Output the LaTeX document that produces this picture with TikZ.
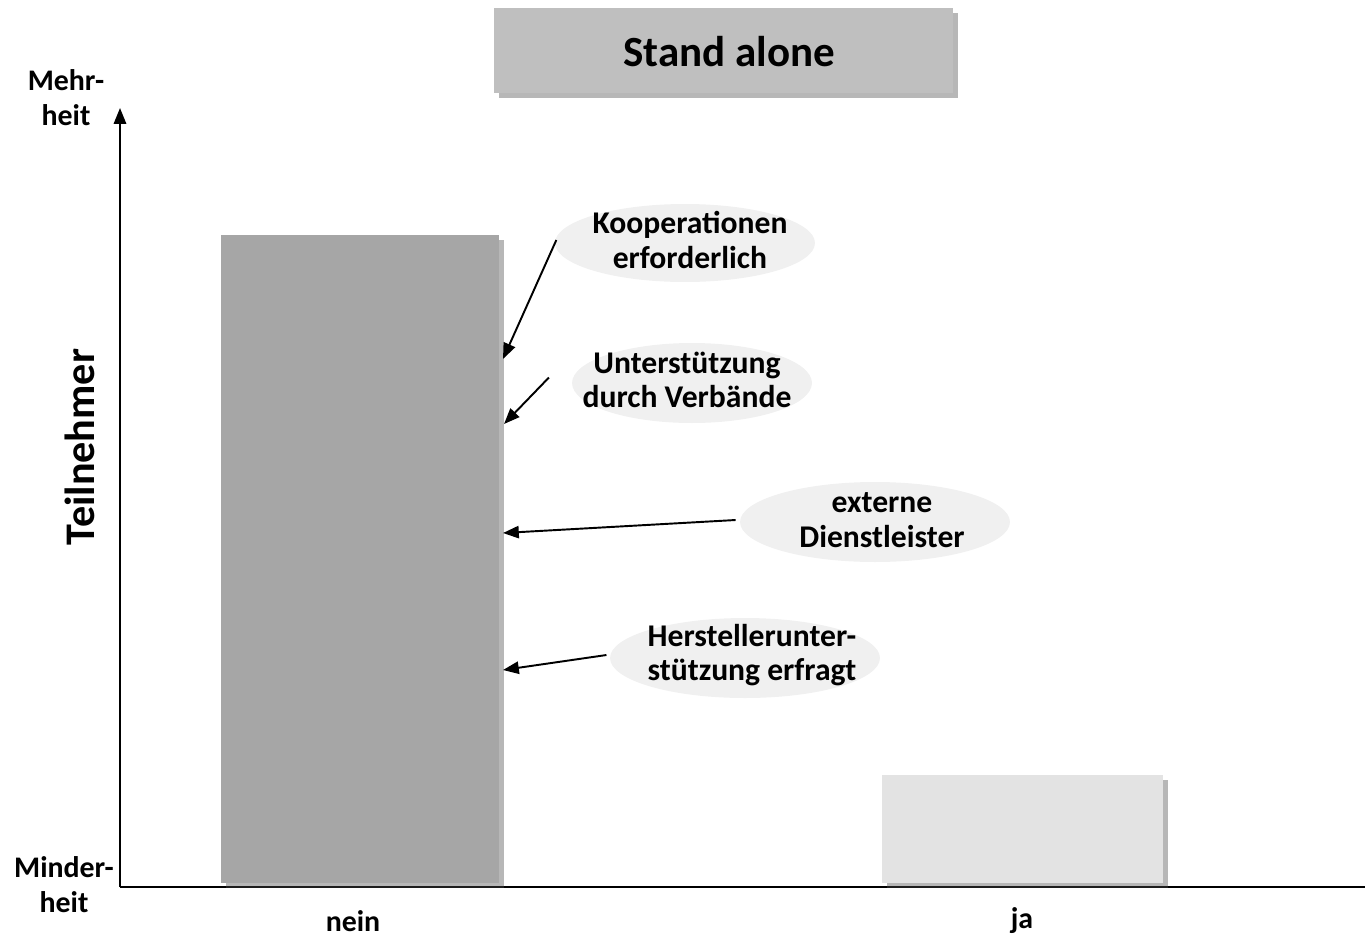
\documentclass[tikz,border=0pt]{standalone}
\usepackage{fontspec}
\setmainfont{Carlito}
\usetikzlibrary{shadows,arrows.meta}

\tikzset{
  shad/.style={drop shadow={shadow xshift=3pt,shadow yshift=-3pt,opacity=.4,fill=black!70}},
  glow/.style={fill=black!6},
  lbl/.style={font=\fontsize{18}{19.5}\selectfont\bfseries,align=center},
  axlbl/.style={font=\fontsize{17}{20}\selectfont\bfseries,align=center},
  pointer/.style={-{Triangle[length=9pt,width=7pt]},line width=1.1pt}
}

\begin{document}
\begin{tikzpicture}[x=0.02cm,y=-0.02cm]
  \useasboundingbox (0,0) rectangle (1365,937);
  % title
  \node[fill=black!25,shad,minimum width=9.18cm,minimum height=1.7cm] (titlebox) at (723.5,50.5) {};
  \node[font=\fontsize{24.5}{29}\selectfont\bfseries] (title) at (729,52) {Stand alone};
  % axes
  \coordinate (orig) at (120,887);
  \coordinate (ytop) at (120,108);
  \coordinate (xend) at (1365,887);
  \draw[line width=1.2pt,-{Triangle[length=9pt,width=7pt]}] (orig) -- (ytop);
  \draw[line width=1.2pt] (orig) -- (xend);
  \node[axlbl] (mehr) at (66,98) {Mehr-\\heit};
  \node[axlbl] (minder) at (64,885) {Minder-\\heit};
  \node[rotate=90,font=\fontsize{24}{28}\selectfont\bfseries] (teil) at (80,447) {Teilnehmer};
  \node[axlbl] (nein) at (353,921) {nein};
  \node[axlbl] (ja) at (1022,921) {ja};
  % bars
  \fill[black!35,shad] (221,235) rectangle (499,883);
  \fill[black!11,shad] (882,775) rectangle (1163,883);
  % notes
  \fill[glow] (685,243) ellipse (2.6cm and 0.78cm);
  \fill[glow] (692,383) ellipse (2.4cm and 0.8cm);
  \fill[glow] (875,522) ellipse (2.7cm and 0.8cm);
  \fill[glow] (745,658) ellipse (2.7cm and 0.8cm);
  \node[lbl] (koop) at (690,240) {Kooperationen\\erforderlich};
  \node[lbl] (verb) at (687,380) {Unterst\"utzung\\durch Verb\"ande};
  \node[lbl] (ext) at (882,520) {externe\\Dienstleister};
  \node[lbl] (herst) at (752,655) {Herstellerunter-\\st\"utzung erfragt};
  \coordinate (t1) at (503,359);
  \coordinate (t2) at (504,424);
  \coordinate (t3) at (503,533);
  \coordinate (t4) at (503,670);
  \draw[pointer] ([xshift=-0.6cm]koop.west) -- (t1);
  \draw[pointer] ([xshift=-0.55cm,yshift=0.05cm]verb.west) -- (t2);
  \draw[pointer] ([xshift=-1.15cm]ext.west) -- (t3);
  \draw[pointer] ([xshift=-0.7cm]herst.west) -- (t4);
\end{tikzpicture}
\end{document}
